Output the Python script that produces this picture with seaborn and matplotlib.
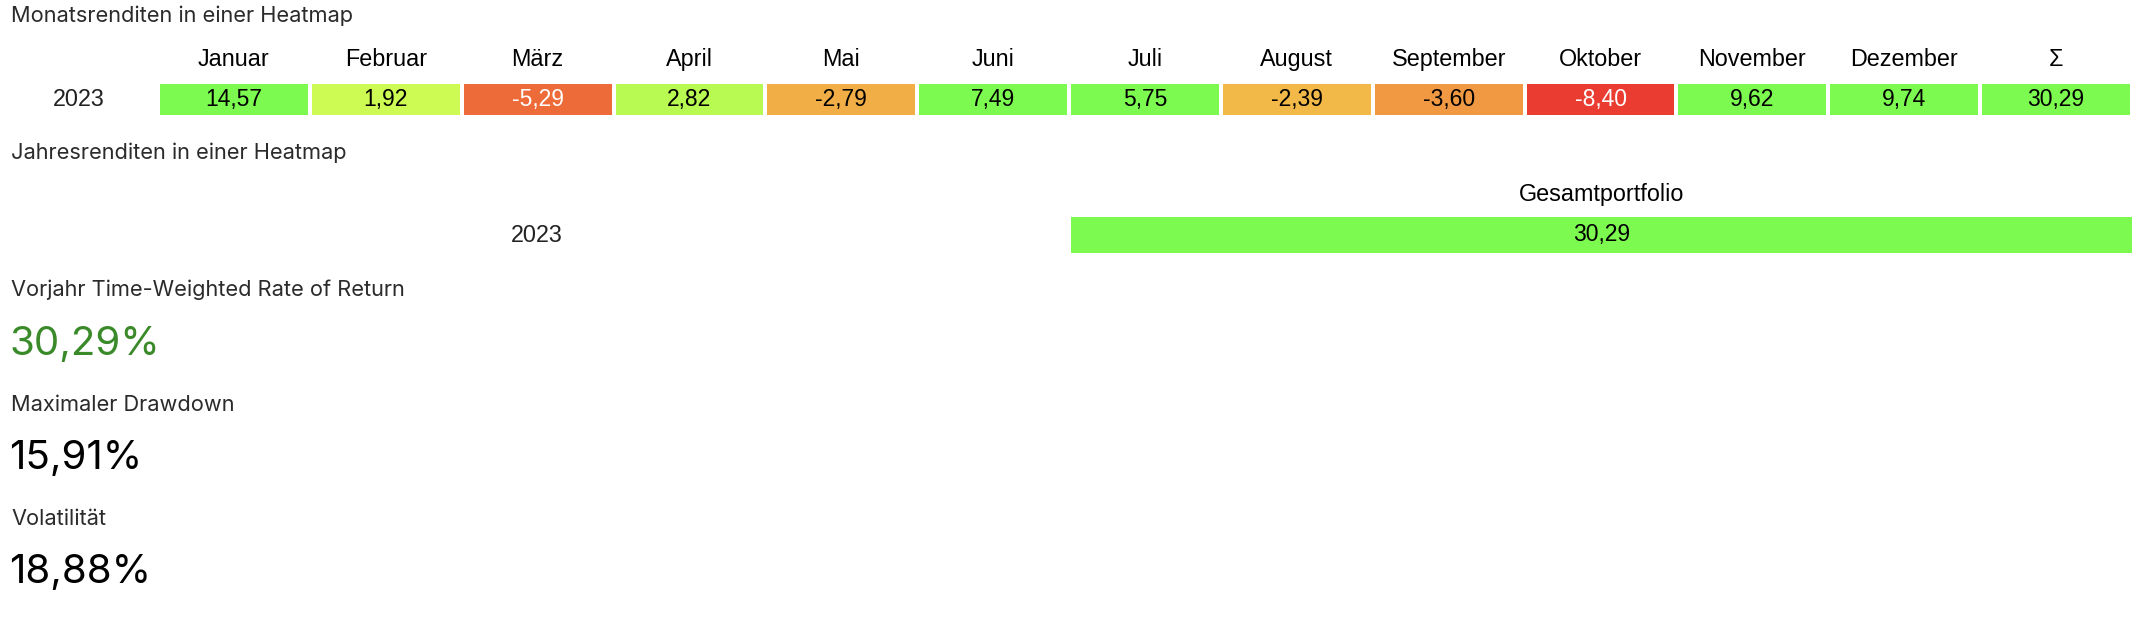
import numpy as np
import pandas as pd
import matplotlib
matplotlib.use("Agg")
import matplotlib.pyplot as plt
import seaborn as sns
from matplotlib.colors import LinearSegmentedColormap

# data
months = ["Januar", "Februar", "März", "April", "Mai", "Juni", "Juli",
          "August", "September", "Oktober", "November", "Dezember", "Σ"]
monthly_returns = [14.57, 1.92, -5.29, 2.82, -2.79, 7.49, 5.75,
                   -2.39, -3.60, -8.40, 9.62, 9.74, 30.29]
year = "2023"
portfolio_label = "Gesamtportfolio"
yearly_returns = [30.29]
kpi_titles = ["Vorjahr Time-Weighted Rate of Return", "Maximaler Drawdown", "Volatilität"]
kpi_values = [30.29, 15.91, 18.88]
section_titles = ["Monatsrenditen in einer Heatmap", "Jahresrenditen in einer Heatmap"]


def de(v, suffix=""):
    return f"{v:.2f}".replace(".", ",") + suffix


sns.set_theme(style="white")
plt.rcParams["font.family"] = ["Liberation Sans", "DejaVu Sans"]

W, H = 2136, 626
fig = plt.figure(figsize=(W / 100, H / 100), dpi=100)

cmap = LinearSegmentedColormap.from_list(
    "ryg", [(0.0, "#ea3c30"), (7 / 12.5, "#f8fa55"), (1.0, "#7cfa50")])
vmin, vmax = -7, 5.5

# monthly heatmap
ax1 = fig.add_axes([158 / W, 1 - 117 / H, (2132 - 158) / W, 35 / H])
df_m = pd.DataFrame([monthly_returns], index=[year], columns=months)
annot_m = np.array([[de(v) for v in monthly_returns]])
sns.heatmap(df_m, ax=ax1, cmap=cmap, vmin=vmin, vmax=vmax, cbar=False,
            annot=annot_m, fmt="", linewidths=1.5, linecolor="white",
            annot_kws={"fontsize": 16.5})
for t, v in zip(ax1.texts, monthly_returns):
    t.set_color("white" if v < -5 else "black")

# yearly heatmap
ax2 = fig.add_axes([1071 / W, 1 - 253 / H, (2132 - 1071) / W, 36 / H])
df_y = pd.DataFrame([yearly_returns], index=[year], columns=[portfolio_label])
annot_y = np.array([[de(v) for v in yearly_returns]])
sns.heatmap(df_y, ax=ax2, cmap=cmap, vmin=vmin, vmax=vmax, cbar=False,
            annot=annot_y, fmt="", annot_kws={"fontsize": 16.5, "color": "black"})

for ax, ypad in ((ax1, (158 - 79) * 0.72), (ax2, (1071 - 537) * 0.72)):
    ax.xaxis.tick_top()
    ax.set_xlabel("")
    ax.set_ylabel("")
    ax.tick_params(axis="x", length=0, pad=8, labelsize=16.8, labelcolor="black")
    ax.tick_params(axis="y", length=0, pad=ypad, labelsize=16.8, labelcolor="#222222")
    for lab in ax.get_xticklabels():
        lab.set_rotation(0)
    for lab in ax.get_yticklabels():
        lab.set_rotation(0)
        lab.set_ha("center")
        lab.set_va("center")

# section titles and KPIs
title_kw = dict(fontsize=15.7, color="#2b2b2b", va="center", ha="left",
                family=["Inter", "DejaVu Sans"])
fig.text(11 / W, 1 - 16 / H, section_titles[0], **title_kw)
fig.text(11 / W, 1 - 153 / H, section_titles[1], **title_kw)

kpi_y = [(290, 345), (405, 459), (519, 573)]
kpi_colors = ["#3a8a2a", "black", "black"]
for name, val, (ty, vy), c in zip(kpi_titles, kpi_values, kpi_y, kpi_colors):
    fig.text(11 / W, 1 - ty / H, name, **title_kw)
    fig.text(9 / W, 1 - vy / H, de(val, "%"), fontsize=29, color=c,
             va="center", ha="left", family=["Inter", "DejaVu Sans"])

fig.savefig("out.png", dpi=100, facecolor="white")
